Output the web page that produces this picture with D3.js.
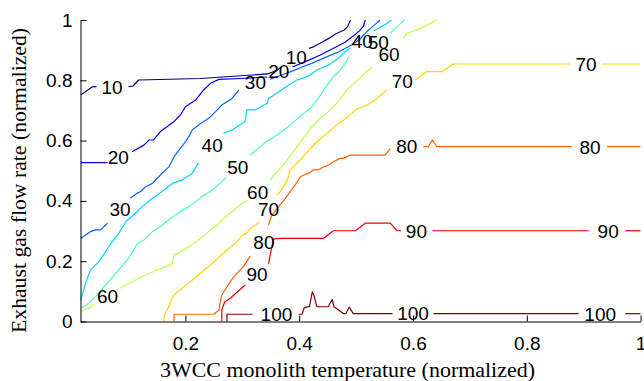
<!DOCTYPE html>
<html>
<head>
<meta charset="utf-8">
<script src="https://cdn.jsdelivr.net/npm/d3@7"></script>
<style>
    body { margin: 0; background: #fff; }
    .tick text { font-family: "Liberation Sans", Arial, sans-serif; font-size: 19px; fill: #000; }
    .tick line, .domain { stroke: #000; stroke-width: 1; }
    .contour { fill: none; stroke-width: 1.2; stroke-linejoin: round; }
    .clabel { font-family: "Liberation Sans", Arial, sans-serif; font-size: 19px; fill: #000;
              text-anchor: middle; dominant-baseline: central; }
    .axisTitle { font-family: "Liberation Serif", "Times New Roman", serif; font-size: 21px; fill: #000; text-anchor: middle; }
</style>
</head>
<body>
<div id="chart"></div>
<script>
'use strict';

// Contour levels
const levels = [10, 20, 30, 40, 50, 60, 70, 80, 90, 100];

// Tick values
const xTicks = [0.2, 0.4, 0.6, 0.8, 1];
const yTicks = [0, 0.2, 0.4, 0.6, 0.8, 1];
const xMin = 0.0156;

// Contour segments (gaps are where the labels sit)
const contour10 = [
    [[0.016, 0.751], [0.036, 0.778], [0.044, 0.779]],
    [[0.100, 0.779], [0.108, 0.781], [0.118, 0.801], [0.226, 0.806], [0.344, 0.821], [0.361, 0.833], [0.370, 0.847]],
    [[0.417, 0.906], [0.425, 0.911], [0.440, 0.926], [0.452, 0.939], [0.463, 0.953], [0.472, 0.961], [0.479, 0.967], [0.485, 0.978], [0.490, 1.0]]
];
const contour20 = [
    [[0.016, 0.527], [0.063, 0.527]],
    [[0.106, 0.563], [0.127, 0.585], [0.136, 0.602], [0.144, 0.602], [0.156, 0.630], [0.180, 0.663], [0.191, 0.685], [0.200, 0.712], [0.218, 0.735], [0.232, 0.768], [0.244, 0.790], [0.259, 0.803], [0.297, 0.806], [0.344, 0.811]],
    [[0.388, 0.844], [0.411, 0.862], [0.437, 0.884], [0.463, 0.909], [0.481, 0.927], [0.495, 0.947], [0.506, 0.964], [0.513, 0.980], [0.516, 1.0]]
];
const contour30 = [
    [[0.016, 0.276], [0.033, 0.298], [0.042, 0.304], [0.051, 0.304], [0.063, 0.326]],
    [[0.103, 0.409], [0.115, 0.425], [0.121, 0.431], [0.130, 0.447], [0.142, 0.458], [0.153, 0.480], [0.162, 0.497], [0.171, 0.513], [0.182, 0.552], [0.200, 0.596], [0.206, 0.613], [0.212, 0.635], [0.223, 0.652], [0.241, 0.674], [0.253, 0.696], [0.264, 0.718], [0.282, 0.740], [0.294, 0.768]],
    [[0.349, 0.804], [0.367, 0.816], [0.384, 0.828], [0.405, 0.844], [0.423, 0.857], [0.446, 0.876], [0.469, 0.894], [0.492, 0.917], [0.507, 0.937], [0.520, 0.964], [0.532, 0.983], [0.542, 1.0]]
];
const contour40 = [
    [[0.016, 0.071], [0.024, 0.124], [0.033, 0.171], [0.045, 0.193], [0.054, 0.215], [0.065, 0.248], [0.083, 0.293], [0.095, 0.331], [0.112, 0.359], [0.124, 0.381], [0.142, 0.409], [0.159, 0.431], [0.177, 0.458], [0.194, 0.469], [0.212, 0.492], [0.223, 0.526]],
    [[0.267, 0.624], [0.282, 0.635], [0.305, 0.663], [0.308, 0.702], [0.323, 0.702], [0.344, 0.724], [0.346, 0.740], [0.358, 0.754], [0.373, 0.774], [0.396, 0.801], [0.414, 0.812], [0.431, 0.834], [0.452, 0.851], [0.469, 0.873], [0.481, 0.895], [0.490, 0.907]],
    [[0.532, 0.964], [0.544, 0.978], [0.553, 0.987], [0.562, 1.0]]
];
const contour50 = [
    [[0.016, 0.044], [0.030, 0.060], [0.048, 0.094], [0.065, 0.132], [0.083, 0.171], [0.100, 0.210], [0.109, 0.237], [0.115, 0.257], [0.127, 0.270], [0.142, 0.298], [0.159, 0.320], [0.182, 0.353], [0.206, 0.381], [0.229, 0.414], [0.247, 0.436], [0.264, 0.464], [0.272, 0.479]],
    [[0.314, 0.552], [0.328, 0.575], [0.344, 0.599], [0.358, 0.615], [0.373, 0.635], [0.388, 0.658], [0.402, 0.682], [0.420, 0.708], [0.434, 0.741], [0.443, 0.768], [0.460, 0.811], [0.472, 0.834], [0.481, 0.857], [0.487, 0.878]],
    [[0.560, 0.956], [0.572, 0.978], [0.585, 1.0]]
];
const contour60 = [
    [[0.016, 0.033], [0.030, 0.044], [0.040, 0.058]],
    [[0.086, 0.110], [0.106, 0.132], [0.118, 0.143], [0.130, 0.154], [0.144, 0.165], [0.156, 0.176], [0.168, 0.182], [0.177, 0.193], [0.180, 0.221], [0.188, 0.226], [0.206, 0.248], [0.223, 0.270], [0.241, 0.298], [0.259, 0.326], [0.264, 0.337], [0.282, 0.364], [0.300, 0.392], [0.311, 0.403]],
    [[0.349, 0.469], [0.355, 0.486], [0.364, 0.503], [0.376, 0.529], [0.388, 0.559], [0.402, 0.596], [0.420, 0.641], [0.437, 0.674], [0.455, 0.702], [0.466, 0.724], [0.484, 0.768], [0.490, 0.779], [0.513, 0.818], [0.528, 0.844]],
    [[0.583, 0.939], [0.589, 0.956], [0.607, 0.967], [0.624, 0.983], [0.642, 1.0]]
];
const contour70 = [
    [[0.162, 0], [0.163, 0.022], [0.168, 0.038], [0.174, 0.065], [0.177, 0.081], [0.182, 0.091], [0.200, 0.119], [0.218, 0.146], [0.229, 0.164], [0.250, 0.197], [0.273, 0.237], [0.291, 0.265], [0.300, 0.287], [0.308, 0.293], [0.314, 0.309], [0.323, 0.320], [0.330, 0.330]],
    [[0.361, 0.420], [0.367, 0.431], [0.376, 0.458], [0.381, 0.480], [0.384, 0.503], [0.402, 0.536], [0.417, 0.569], [0.434, 0.602], [0.449, 0.624], [0.469, 0.657], [0.478, 0.668], [0.499, 0.702], [0.519, 0.718], [0.537, 0.740], [0.554, 0.768]],
    [[0.604, 0.801], [0.624, 0.829], [0.651, 0.829], [0.671, 0.854], [0.876, 0.854]],
    [[0.932, 0.854], [1.0, 0.854]]
];
const contour80 = [
    [[0.180, 0], [0.180, 0.024], [0.250, 0.024], [0.259, 0.038], [0.262, 0.071], [0.264, 0.088], [0.273, 0.115], [0.285, 0.149], [0.302, 0.182], [0.314, 0.217]],
    [[0.346, 0.320], [0.352, 0.353], [0.364, 0.381], [0.376, 0.409], [0.384, 0.431], [0.393, 0.453], [0.402, 0.480], [0.408, 0.486], [0.417, 0.492], [0.425, 0.503], [0.434, 0.503], [0.443, 0.513], [0.452, 0.519], [0.460, 0.530], [0.472, 0.541], [0.478, 0.541], [0.490, 0.552], [0.551, 0.552], [0.560, 0.574]],
    [[0.618, 0.580], [0.627, 0.580], [0.634, 0.602], [0.642, 0.580], [0.879, 0.580]],
    [[0.941, 0.580], [1.0, 0.580]]
];
const contour90 = [
    [[0.264, 0], [0.264, 0.038], [0.269, 0.065], [0.279, 0.077], [0.285, 0.088], [0.297, 0.108], [0.305, 0.121]],
    [[0.346, 0.191], [0.349, 0.221], [0.352, 0.247], [0.355, 0.274], [0.370, 0.276], [0.443, 0.276], [0.460, 0.301], [0.499, 0.301], [0.516, 0.326], [0.560, 0.326], [0.572, 0.301], [0.579, 0.301]],
    [[0.634, 0.301], [0.909, 0.301]],
    [[0.973, 0.301], [1.0, 0.301]]
];
const contour100 = [
    [[0.273, 0], [0.273, 0.024], [0.318, 0.024]],
    [[0.399, 0.024], [0.405, 0.024], [0.409, 0.046], [0.418, 0.050], [0.423, 0.098], [0.426, 0.086], [0.431, 0.049], [0.451, 0.049], [0.458, 0.073], [0.461, 0.049], [0.469, 0.038], [0.478, 0.026], [0.482, 0.026], [0.488, 0.048], [0.495, 0.026], [0.564, 0.026]],
    [[0.636, 0.026], [0.891, 0.026]],
    [[0.973, 0.026], [1.0, 0.026]]
];

// Inline labels: [level, x, y]
const contourLabels = [
    [10, 0.071, 0.775], [10, 0.395, 0.877],
    [20, 0.082, 0.544], [20, 0.364, 0.829],
    [30, 0.085, 0.372], [30, 0.323, 0.794],
    [40, 0.247, 0.585], [40, 0.511, 0.929],
    [50, 0.292, 0.511], [50, 0.539, 0.927],
    [60, 0.063, 0.082], [60, 0.327, 0.428], [60, 0.558, 0.887],
    [70, 0.346, 0.370], [70, 0.581, 0.795], [70, 0.904, 0.851],
    [80, 0.338, 0.262], [80, 0.589, 0.579], [80, 0.911, 0.577],
    [90, 0.326, 0.156], [90, 0.606, 0.300], [90, 0.943, 0.300],
    [100, 0.360, 0.023], [100, 0.600, 0.025], [100, 0.929, 0.022]
];

/* `````````````````````````````````\
    Class: ContourPlot              |
 ``````````````````````````````````*/
class ContourPlot {

    constructor(_parent) {
        this.parent = _parent;
        this.lines = [contour10, contour20, contour30, contour40, contour50,
                      contour60, contour70, contour80, contour90, contour100];
        this.initVis();
    }

    initVis() {
        const vis = this;

        // Config svg
        vis.w = 644;
        vis.h = 381;

        vis.svg = d3.select(`#${vis.parent}`)
            .append('svg')
            .attr('width', vis.w)
            .attr('height', vis.h);

        // Scales
        vis.x = d3.scaleLinear().domain([xMin, 1]).range([80.5, 640.6]);
        vis.y = d3.scaleLinear().domain([0, 1]).range([321.5, 20]);

        // Jet colormap (matlab style)
        const clamp = v => Math.max(0, Math.min(1, v));
        const jet = t => d3.rgb(
            255 * clamp(1.5 - Math.abs(4 * t - 3)),
            255 * clamp(1.5 - Math.abs(4 * t - 2)),
            255 * clamp(1.5 - Math.abs(4 * t - 1))
        );
        vis.color = d3.scaleSequential(jet).domain([levels[0], levels[levels.length - 1]]);

        vis.updateVis();
    }

    updateVis() {
        const vis = this;

        // Contour lines
        const line = d3.line()
            .x(d => vis.x(d[0]))
            .y(d => vis.y(d[1]));

        vis.svg.append('g')
            .attr('id', 'contours')
            .selectAll('g')
            .data(levels)
            .join('g')
            .attr('stroke', d => vis.color(d))
            .each(function(d, i) {
                d3.select(this).selectAll('path')
                    .data(vis.lines[i])
                    .join('path')
                    .attr('class', 'contour')
                    .attr('d', line);
            });

        // Labels
        vis.svg.append('g')
            .attr('id', 'labels')
            .selectAll('text')
            .data(contourLabels)
            .join('text')
            .attr('class', 'clabel')
            .attr('x', d => vis.x(d[1]))
            .attr('y', d => vis.y(d[2]))
            .text(d => d[0]);

        // Axes (ticks point inward, no box)
        vis.svg.append('g')
            .attr('transform', `translate(0, ${vis.y(0)})`)
            .call(d3.axisBottom(vis.x)
                .tickValues(xTicks)
                .tickSize(-6)
                .tickSizeOuter(0)
                .tickPadding(15)
                .tickFormat(d => d));

        vis.svg.append('g')
            .attr('transform', `translate(${vis.x(xMin)}, 0)`)
            .call(d3.axisLeft(vis.y)
                .tickValues(yTicks)
                .tickSize(-6)
                .tickSizeOuter(0)
                .tickPadding(8)
                .tickFormat(d => d));

        // Axis titles
        vis.svg.append('text')
            .attr('class', 'axisTitle')
            .attr('x', 347.5)
            .attr('y', 377)
            .attr('textLength', 375)
            .attr('lengthAdjust', 'spacingAndGlyphs')
            .text('3WCC monolith temperature (normalized)');

        vis.svg.append('text')
            .attr('class', 'axisTitle')
            .attr('transform', 'translate(26, 180.5) rotate(-90)')
            .attr('textLength', 305)
            .attr('lengthAdjust', 'spacingAndGlyphs')
            .text('Exhaust gas flow rate (normalized)');
    }
}

new ContourPlot('chart');
</script>
</body>
</html>
